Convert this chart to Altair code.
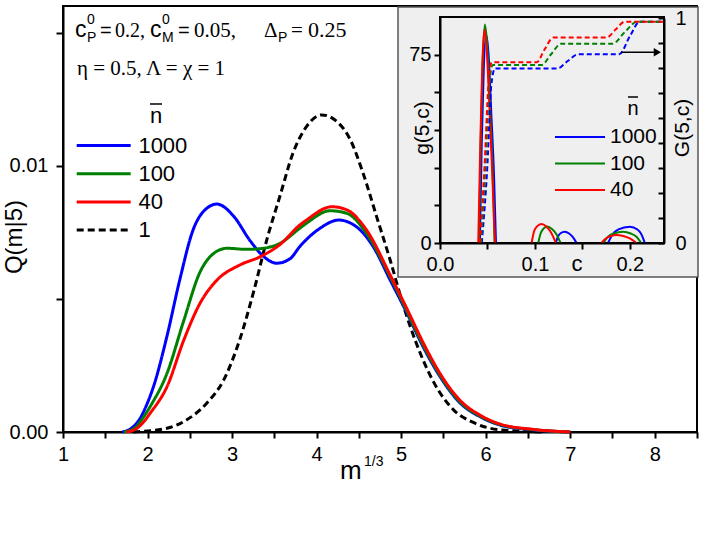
import altair as alt
import pandas as pd

SANS = "Liberation Sans"
SERIF = "Liberation Serif"

# ---------------- main panel data: Q(m|5) vs m^(1/3) ----------------
series_main = ["1000", "100", "40", "1"]
colors_main = ["#0000ff", "#008000", "#ff0000", "#000000"]
dash_main = [[1, 0], [1, 0], [1, 0], [7, 4]]

m_1000 = [1.70, 1.80, 1.91, 2.00, 2.07, 2.23, 2.38, 2.54, 2.70, 2.82, 3.02, 3.21, 3.37, 3.53,
          3.69, 3.80, 4.04, 4.26, 4.47, 4.67, 4.87, 5.07, 5.26, 5.46, 5.70, 5.93, 6.17,
          6.56, 7.00]
q_1000 = [0.0, 0.00012, 0.0005, 0.0011, 0.0017, 0.0036, 0.0057, 0.0076, 0.0084, 0.00856, 0.0081,
          0.0072, 0.0066, 0.00634, 0.00652, 0.00696, 0.00765, 0.00796, 0.00771, 0.00696,
          0.00571, 0.00446, 0.0032, 0.00208, 0.00108, 0.00058, 0.00026, 0.00008, 0.0]

m_100 = [1.72, 1.85, 1.94, 2.03, 2.23, 2.43, 2.62, 2.78, 2.94, 3.17, 3.37, 3.57, 3.80, 3.88,
         4.16, 4.36, 4.59, 4.87, 5.07, 5.26, 5.46, 5.70, 5.93, 6.17, 6.56, 7.00]
q_100 = [0.0, 0.00015, 0.0005, 0.00095, 0.0022, 0.0042, 0.0060, 0.0067, 0.0069, 0.00686, 0.0069,
         0.00709, 0.00765, 0.00784, 0.00831, 0.00821, 0.00746, 0.00583, 0.00452, 0.00326,
         0.00213, 0.00112, 0.0006, 0.00028, 0.00009, 0.0]

m_40 = [1.75, 1.88, 1.96, 2.03, 2.23, 2.43, 2.62, 2.82, 3.09, 3.33, 3.57, 3.80, 3.88, 4.18,
        4.36, 4.59, 4.87, 5.07, 5.26, 5.46, 5.70, 5.93, 6.17, 6.56, 7.00]
q_40 = [0.0, 0.00015, 0.0004, 0.0007, 0.0017, 0.00346, 0.00483, 0.0057, 0.00627, 0.00658, 0.00705,
        0.00777, 0.00796, 0.00846, 0.00834, 0.00759, 0.0059, 0.00462, 0.00336, 0.0022,
        0.00118, 0.00064, 0.0003, 0.0001, 0.0]

m_1 = [1.83, 2.23, 2.46, 2.70, 2.90, 3.09, 3.26, 3.41, 3.57, 3.72, 3.88, 4.06, 4.24, 4.40,
       4.55, 4.71, 4.87, 5.03, 5.18, 5.38, 5.62, 5.86, 6.17, 6.70]
q_1 = [0.0, 0.00014, 0.00045, 0.00108, 0.00195, 0.00346, 0.00533, 0.00721, 0.0089, 0.01047,
       0.01147, 0.01191, 0.01166, 0.01097, 0.00972, 0.00809, 0.00646, 0.00471, 0.00333,
       0.0019, 0.00083, 0.00035, 0.00008, 0.0]

# ---------------- inset data: g(5,c) (solid) and G(5,c) (dashed) ----------------
series_inset = ["1000", "100", "40"]
colors_inset = ["#0000ff", "#008000", "#ff0000"]

# g(5,c): three separate humps per series
g_c_1000 = [[0.042, 0.044, 0.046, 0.0485, 0.051, 0.054, 0.057, 0.059],
            [0.122, 0.1245, 0.127, 0.1316, 0.136, 0.140, 0.1439],
            [0.177, 0.182, 0.188, 0.200, 0.208, 0.212, 0.2158]]
g_v_1000 = [[0, 40, 68, 83, 76, 52, 26, 0],
            [0, 2.7, 3.9, 4.5, 3.8, 2.3, 0],
            [0, 3.5, 5.4, 6.5, 5.4, 3.6, 0]]
g_c_100 = [[0.041, 0.043, 0.045, 0.0472, 0.0495, 0.0525, 0.0555, 0.0575],
           [0.1035, 0.106, 0.109, 0.113, 0.118, 0.123, 0.127],
           [0.172, 0.177, 0.183, 0.193, 0.201, 0.207, 0.212]]
g_v_100 = [[0, 42, 72, 87, 80, 56, 28, 0],
           [0, 3.8, 5.7, 6.6, 5.6, 3.3, 0],
           [0, 2.5, 3.8, 4.5, 3.8, 2.5, 0]]
g_c_40 = [[0.0403, 0.0425, 0.0445, 0.0466, 0.049, 0.052, 0.055, 0.0579],
          [0.0965, 0.099, 0.102, 0.107, 0.112, 0.117, 0.1221],
          [0.170, 0.175, 0.180, 0.186, 0.193, 0.200, 0.207]]
g_v_40 = [[0, 40, 70, 85, 78, 55, 28, 0],
          [0, 4.5, 6.5, 7.6, 6.6, 4.2, 0],
          [0, 1.9, 2.8, 3.2, 2.8, 1.8, 0]]

# G(5,c): cumulative staircase
G_c_1000 = [0.044, 0.050, 0.054, 0.058, 0.1239, 0.1345, 0.1456, 0.1888, 0.2000, 0.2105, 0.235]
G_v_1000 = [0.0, 0.35, 0.70, 0.777, 0.777, 0.81, 0.840, 0.840, 0.92, 0.985, 0.985]
G_c_100 = [0.043, 0.048, 0.052, 0.0555, 0.107, 0.117, 0.1277, 0.1818, 0.195, 0.2077, 0.235]
G_v_100 = [0.0, 0.35, 0.70, 0.792, 0.792, 0.84, 0.887, 0.887, 0.94, 0.985, 0.985]
G_c_40 = [0.042, 0.047, 0.051, 0.0544, 0.1018, 0.110, 0.1193, 0.1754, 0.185, 0.1947, 0.235]
G_v_40 = [0.0, 0.35, 0.70, 0.804, 0.804, 0.86, 0.914, 0.914, 0.95, 0.985, 0.985]

# arrow pointing at the right-hand (G) axis
arrow_c = [0.191, 0.229]
arrow_G = 0.849

# ---------------- layout (pixels) ----------------
OX, OY = 63, 6            # plot-area origin on the page
W, H = 634, 426           # main plot area
IN_X = [377, 601]         # inset plot area, x range inside the main plot
IN_Y_BOT, IN_Y_TOP = 237, 11


def px(x):
    return x - OX


def py(y):
    return y - OY


# ---------------- tables ----------------
rows = []
for name, ms, qs in [("1000", m_1000, q_1000), ("100", m_100, q_100),
                     ("40", m_40, q_40), ("1", m_1, q_1)]:
    rows += [{"m": a, "Q": b, "nbar": name} for a, b in zip(ms, qs)]
main_df = pd.DataFrame(rows)

rows = []
for name, cs, vs in [("1000", g_c_1000, g_v_1000), ("100", g_c_100, g_v_100),
                     ("40", g_c_40, g_v_40)]:
    for k, (cc, vv) in enumerate(zip(cs, vs)):
        rows += [{"c": a, "g": b, "n": name, "seg": f"{name}-{k}"} for a, b in zip(cc, vv)]
g_df = pd.DataFrame(rows)

rows = []
for name, cs, vs in [("1000", G_c_1000, G_v_1000), ("100", G_c_100, G_v_100),
                     ("40", G_c_40, G_v_40)]:
    rows += [{"c": a, "G": b, "n": name} for a, b in zip(cs, vs)]
G_df = pd.DataFrame(rows)

arrow_df = pd.DataFrame({"c": [arrow_c[0]], "c2": [arrow_c[1]], "G": [arrow_G]})
head_df = pd.DataFrame({"c": [arrow_c[1]], "G": [arrow_G]})

# ---------------- main panel ----------------
x_main = alt.X("m:Q", scale=alt.Scale(domain=[1, 8.5], nice=False, zero=False),
               axis=alt.Axis(orient="bottom", title=None, grid=False,
                             values=[1 + 0.5 * i for i in range(16)],
                             labelExpr="datum.value % 1 == 0 ? format(datum.value, 'd') : ''",
                             tickSize=6, tickWidth=2, domainWidth=2, labelPadding=6,
                             labelFontSize=20, labelFlush=False, labelOverlap=False))
y_main = alt.Y("Q:Q", scale=alt.Scale(domain=[0, 0.016], nice=False, zero=False),
               axis=alt.Axis(orient="left", title=None, grid=False,
                             values=[0, 0.005, 0.01, 0.015],
                             labelExpr="datum.value == 0 ? '0.00' : (abs(datum.value - 0.01) < 1e-9 ? '0.01' : '')",
                             tickSize=7, tickWidth=2, domainWidth=2, labelPadding=8,
                             labelFontSize=20, labelFlush=False, labelOverlap=False))
# legend sample: a horizontal line running from the entry's left edge, 5 half-sizes long
main_legend = alt.Legend(orient="none", legendX=px(75), legendY=py(133), title=None,
                         symbolType="M-1,0H4", symbolSize=466, symbolStrokeWidth=3,
                         labelFontSize=22, labelFont=SANS, labelOffset=38.4, rowPadding=4.2,
                         padding=0)
color_main = alt.Color("nbar:N", scale=alt.Scale(domain=series_main, range=colors_main),
                       legend=main_legend)
dash_enc = alt.StrokeDash("nbar:N", scale=alt.Scale(domain=series_main, range=dash_main),
                          legend=main_legend)

main_layers = []
for name in ["1", "1000", "100", "40"]:
    main_layers.append(
        alt.Chart(main_df).transform_filter(alt.datum.nbar == name)
        .mark_line(interpolate="monotone", strokeWidth=3)
        .encode(x=x_main, y=y_main, color=color_main, strokeDash=dash_enc)
    )
main = alt.layer(*main_layers)

# ---------------- inset background ----------------
one = alt.Data(values=[{"k": 0}])
inset_bg = alt.Chart(one).mark_rect(fill="#efefef", stroke="#555555", strokeWidth=1.5).encode(
    x=alt.value(px(398)), x2=alt.value(px(698)), y=alt.value(py(7)), y2=alt.value(py(277)))
inset_frame = alt.Chart(one).mark_rect(fillOpacity=0, stroke="black", strokeWidth=2).encode(
    x=alt.value(IN_X[0]), x2=alt.value(IN_X[1]), y=alt.value(IN_Y_TOP), y2=alt.value(IN_Y_BOT))

# ---------------- inset ----------------
x_in = alt.X("c:Q", scale=alt.Scale(domain=[0, 0.236], range=IN_X, nice=False, zero=False),
             axis=alt.Axis(orient="bottom", offset=-(H - IN_Y_BOT), title=None, grid=False,
                           values=[0, 0.05, 0.1, 0.15, 0.2], zindex=2,
                           labelExpr="abs(datum.value*10 - round(datum.value*10)) < 1e-6 ? format(datum.value, '.1f') : ''",
                           tickSize=6, tickWidth=2, domainWidth=2, labelPadding=5,
                           labelFontSize=20, labelFlush=False, labelOverlap=False))
y_g = alt.Y("g:Q", scale=alt.Scale(domain=[0, 90], range=[IN_Y_BOT, IN_Y_TOP], nice=False, zero=False),
            axis=alt.Axis(orient="left", offset=-IN_X[0], title=None, grid=False, zindex=2,
                          values=[0, 15, 30, 45, 60, 75],
                          labelExpr="datum.value == 0 || datum.value == 75 ? datum.label : ''",
                          tickSize=6, tickWidth=2, domainWidth=2, labelPadding=3,
                          labelFontSize=20, labelFlush=False, labelOverlap=False))
G_scale = alt.Scale(domain=[0, 1], range=[IN_Y_BOT, IN_Y_BOT - 224.7], nice=False, zero=False)
y_G = alt.Y("G:Q", scale=G_scale,
            axis=alt.Axis(orient="left", offset=-IN_X[1], title=None, grid=False, zindex=2,
                          values=[i / 9 for i in range(10)],
                          labelExpr="datum.value == 0 ? '0' : (datum.value > 0.99 ? '1' : '')",
                          tickSize=6, tickWidth=2, domainWidth=2, labelPadding=-17,
                          labelAlign="left", labelFontSize=20, labelFlush=False,
                          labelOverlap=False))
inset_legend = alt.Legend(orient="none", legendX=px(554), legendY=py(126), title=None,
                          symbolType="M-1,0H4", symbolSize=400, symbolStrokeWidth=2,
                          labelFontSize=21, labelFont=SANS, labelOffset=34, rowPadding=5.5,
                          padding=0)
color_in = alt.Color("n:N", scale=alt.Scale(domain=series_inset, range=colors_inset),
                     legend=inset_legend)

g_lines = alt.Chart(g_df).mark_line(interpolate="monotone", strokeWidth=2).encode(
    x=x_in, y=y_g, color=color_in, detail="seg:N")
G_lines = alt.Chart(G_df).mark_line(interpolate="monotone", strokeWidth=2, strokeDash=[5, 3]).encode(
    x=x_in, y=y_G, color=color_in)
arrow_line = alt.Chart(arrow_df).mark_rule(color="black", strokeWidth=1.5).encode(
    x=x_in, x2="c2:Q", y=y_G)
arrow_head = alt.Chart(head_df).mark_point(shape="triangle-right", filled=True, color="black",
                                           size=70, opacity=1).encode(x=x_in, y=y_G)
inset = alt.layer(g_lines, alt.layer(G_lines, arrow_line, arrow_head)).resolve_scale(y="independent")


# ---------------- text ----------------
def txt(s, x, y, size, font=SANS, angle=0, align="left", baseline="alphabetic"):
    return alt.Chart(one).mark_text(text=s, font=font, fontSize=size, angle=angle, align=align,
                                    baseline=baseline, color="black").encode(
        x=alt.value(px(x)), y=alt.value(py(y)))


def bar(x1, x2, y, w=1.5):
    return alt.Chart(one).mark_rule(color="black", strokeWidth=w).encode(
        x=alt.value(px(x1)), x2=alt.value(px(x2)), y=alt.value(py(y)))


texts = [
    # parameter line 1
    txt("c", 75, 37, 23), txt("0", 87, 24, 14), txt("P", 87, 42, 14),
    txt("=", 100, 37, 20), txt("0.2,", 115, 37, 20, SERIF),
    txt("c", 150, 37, 23), txt("0", 162, 24, 14), txt("M", 162, 42, 14),
    txt("=", 178, 37, 20), txt("0.05,", 194, 37, 21, SERIF),
    txt("\u0394", 264, 37, 21, SERIF), txt("P", 278, 42, 14),
    txt("=", 291, 37, 21, SERIF), txt("0.25", 308, 37, 22, SERIF),
    # parameter line 2
    txt("\u03b7 = 0.5, \u039b = \u03c7 = 1", 77, 75, 21, SERIF),
    # axis titles
    txt("Q(m|5)", 15, 237, 24, angle=270, align="center", baseline="middle"),
    txt("m", 340, 479, 26), txt("1/3", 364, 466, 14),
    txt("g(5,c)", 423, 128, 21, angle=270, align="center", baseline="middle"),
    txt("G(5,c)", 683, 128, 21, angle=270, align="center", baseline="middle"),
    txt("c", 577, 271, 22, align="center"),
    # legend headers (n with overbar)
    txt("n", 156, 123, 22, align="center"), bar(150, 162, 104),
    txt("n", 633, 115, 20, align="center"), bar(628, 638, 97),
]

chart = alt.layer(main, inset_bg, inset_frame, inset, *texts).resolve_scale(
    x="independent", y="independent", color="independent", strokeDash="independent"
).properties(
    width=W, height=H,
    autosize=alt.AutoSizeParams(type="none"),
    padding={"left": OX, "top": OY, "right": 705 - OX - W, "bottom": 534 - OY - H},
).configure(font=SANS).configure_view(stroke="black", strokeWidth=2).configure_axis(
    labelFont=SANS, labelColor="black", tickColor="black", domainColor="black"
).configure_legend(labelColor="black")

chart.save("out.html", embed_options={"renderer": "svg", "actions": False})
